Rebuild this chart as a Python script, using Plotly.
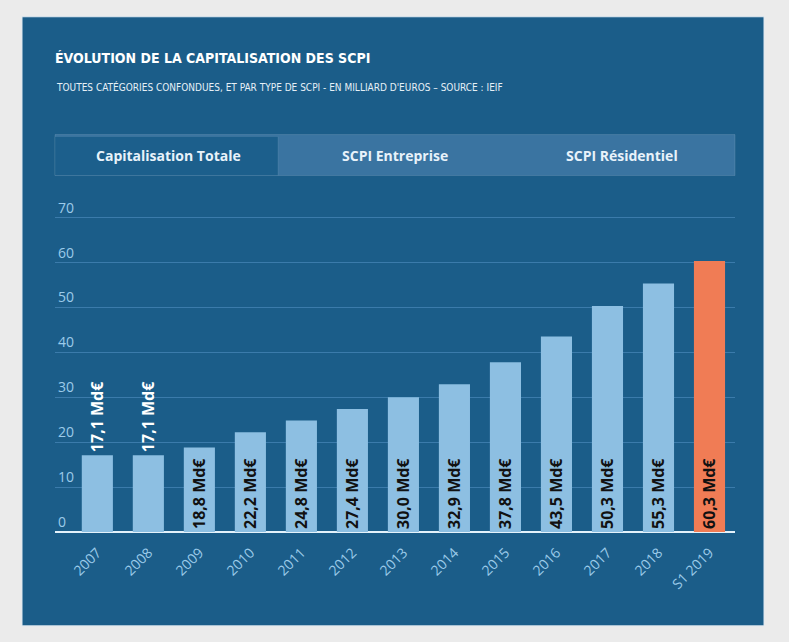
import plotly.graph_objects as go

# ---- data ----
categories = ["2007", "2008", "2009", "2010", "2011", "2012", "2013",
              "2014", "2015", "2016", "2017", "2018", "S1 2019"]
values = [17.1, 17.1, 18.8, 22.2, 24.8, 27.4, 30.0, 32.9, 37.8, 43.5, 50.3, 55.3, 60.3]
y_ticks = [0, 10, 20, 30, 40, 50, 60, 70]
tab_labels = ["Capitalisation Totale", "SCPI Entreprise", "SCPI Résidentiel"]
title_text = "ÉVOLUTION DE LA CAPITALISATION DES SCPI"
subtitle_text = "TOUTES CATÉGORIES CONFONDUES, ET PAR TYPE DE SCPI - EN MILLIARD D'EUROS – SOURCE : IEIF"

# ---- styling ----
W, H = 789, 642
Y_MAX = 75
PX_PER_UNIT = 4.5
L, R, B = 55, 735, 532
T = B - Y_MAX * PX_PER_UNIT  # plot area top in pixels
PANEL = "#1b5d89"
TAB_LIGHT = "#3a74a1"
BAR_LIGHT = "#8dbfe2"
BAR_LAST = "#f07c55"
TICK_COL = "#9ccbea"
NARROW = "Liberation Sans Narrow, DejaVu Sans Condensed, Roboto, sans-serif"


def px_x(p):
    return (p - L) / (R - L)


def px_y(p):
    return (B - p) / (B - T)


def fmt(v):
    return f"{v:.1f}".replace(".", ",") + " Md€"


colors = [BAR_LIGHT] * (len(values) - 1) + [BAR_LAST]
positions = ["outside" if v < 18 else "inside" for v in values]
txt_colors = ["white" if p == "outside" else "#111111" for p in positions]

fig = go.Figure()
fig.add_trace(go.Bar(
    x=categories, y=values,
    marker=dict(color=colors, line=dict(width=0)),
    text=[fmt(v) for v in values],
    textposition=positions,
    insidetextanchor="start",
    textangle=-90,
    constraintext="none",
    textfont=dict(family="Open Sans, sans-serif", size=16, color=txt_colors, weight="bold"),
    cliponaxis=False,
    hoverinfo="skip",
))

shapes = []
# page panel
shapes.append(dict(type="rect", xref="paper", yref="paper", layer="below",
                   x0=px_x(22), x1=px_x(764), y0=px_y(626), y1=px_y(16),
                   fillcolor=PANEL, line=dict(color="#dfe9f1", width=1)))
# tab bar
shapes.append(dict(type="rect", xref="paper", yref="paper", layer="below",
                   x0=px_x(55), x1=px_x(735), y0=px_y(175), y1=px_y(134),
                   fillcolor=TAB_LIGHT, line=dict(color="rgba(255,255,255,0.12)", width=1)))
shapes.append(dict(type="rect", xref="paper", yref="paper", layer="below",
                   x0=px_x(55), x1=px_x(278), y0=px_y(175), y1=px_y(136),
                   fillcolor="#1c5f8c", line=dict(color="rgba(255,255,255,0.08)", width=1)))

annotations = []
annotations.append(dict(text=f"<b>{title_text}</b>", xref="paper", yref="paper",
                        x=px_x(53), y=px_y(57), xanchor="left", yanchor="middle",
                        showarrow=False,
                        font=dict(family=NARROW, size=14, color="white")))
annotations.append(dict(text=subtitle_text, xref="paper", yref="paper",
                        x=px_x(54), y=px_y(86), xanchor="left", yanchor="middle",
                        showarrow=False,
                        font=dict(family=NARROW, size=10, color="#e6f0f7")))
tab_w = (735 - 55) / 3
for i, lab in enumerate(tab_labels):
    annotations.append(dict(text=f"<b>{lab}</b>", xref="paper", yref="paper",
                            x=px_x(55 + tab_w * (i + 0.5)), y=px_y(155),
                            xanchor="center", yanchor="middle", showarrow=False,
                            font=dict(family="Open Sans, sans-serif", size=14,
                                      color="#e8f2fa")))

fig.update_layout(
    width=W, height=H,
    margin=dict(l=L, r=W - R, t=T, b=H - B, pad=0),
    paper_bgcolor="#ebebeb",
    plot_bgcolor="rgba(0,0,0,0)",
    showlegend=False,
    bargap=0.39,
    shapes=shapes,
    annotations=annotations,
    xaxis=dict(
        range=[-0.83, 12.5],
        tickangle=-45,
        tickfont=dict(family="Open Sans, sans-serif", size=14, color=TICK_COL),
        showgrid=False, zeroline=False,
        showline=False, ticks="outside", ticklen=6, tickcolor="rgba(0,0,0,0)",
        fixedrange=True,
    ),
    yaxis=dict(
        range=[0, Y_MAX],
        tickvals=y_ticks,
        ticktext=[str(t) for t in y_ticks],
        ticklabelposition="inside top",
        tickfont=dict(family="Open Sans, sans-serif", size=14, color=TICK_COL),
        showgrid=True, gridcolor="#3b7bab", gridwidth=1,
        zeroline=True, zerolinecolor="#e4f2fb", zerolinewidth=2,
        showline=False, ticks="",
        fixedrange=True,
    ),
)

fig.write_html("out.html", config={"displayModeBar": False},
               post_script="document.body.style.margin='0';document.body.style.background='#ebebeb';")
